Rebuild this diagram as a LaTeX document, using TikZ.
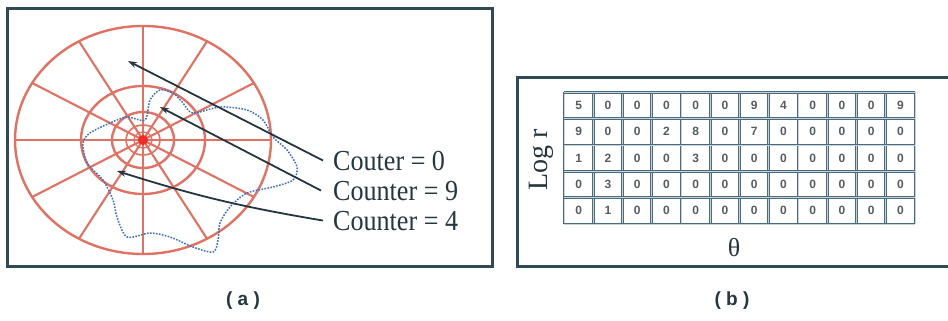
\documentclass[tikz,border=0pt]{standalone}
\usepackage{fontspec}
\setmainfont{Liberation Serif}
\setsansfont{Liberation Sans}
\usetikzlibrary{arrows.meta}
\definecolor{framec}{HTML}{2F4A52}
\definecolor{ringc}{HTML}{DF7262}
\definecolor{dotc}{HTML}{E8302A}
\definecolor{bluec}{HTML}{3C6FC4}
\definecolor{arrowc}{HTML}{24373F}
\definecolor{gridc}{HTML}{4A6A7E}
\definecolor{digitc}{HTML}{555C62}
\begin{document}
\begin{tikzpicture}[x=1pt,y=-1pt,
  frame/.style={draw=framec,line width=3pt},
  ring/.style={draw=ringc,line width=2.4pt},
  spoke/.style={draw=ringc,line width=2.1pt},
  contour/.style={draw=bluec,line width=1.5pt,dash pattern=on 1.6pt off 1.4pt},
  ptr/.style={draw=arrowc,line width=1.8pt,-{Stealth[length=9pt,width=6pt]}},
  lbl/.style={font=\fontsize{29}{30}\selectfont,text=arrowc,anchor=base west,inner sep=0pt,xscale=0.9},
  digit/.style={font=\sffamily\bfseries\fontsize{12}{12}\selectfont,text=digitc,inner sep=0pt},
  gridline/.style={draw=gridc,line width=1.1pt,double=white!70!gridc,double distance=0.7pt},
  axis/.style={font=\fontsize{28}{28}\selectfont,text=arrowc,inner sep=0pt},
  caption/.style={font=\sffamily\bfseries\fontsize{19}{19}\selectfont,text=arrowc,inner sep=0pt}
]
\useasboundingbox (0,0) rectangle (948,321);
\clip (0,0) rectangle (948,321);
\fill[white] (0,0) rectangle (948,321);

% ---------- panel (a) ----------
\draw[frame] (7,9) rectangle (492,266);
\coordinate (C) at (143,140);
\foreach \a in {0,30,...,330}
  \draw[spoke] (C) -- ++({128*cos(\a)},{114*sin(\a)});
\draw[ring] (C) ellipse [x radius=128,y radius=114];
\draw[ring] (C) ellipse [x radius=62,y radius=54];
\draw[ring] (C) ellipse [x radius=31,y radius=28];
\draw[ring,line width=1.6pt] (C) ellipse [x radius=17,y radius=15];
\draw[ring,line width=1.3pt] (C) ellipse [x radius=9,y radius=8];
\fill[dotc] (C) circle (5);

\draw[contour] plot[smooth cycle,tension=0.5] coordinates {
 (127,237) (150,233) (170,237) (193,247) (213,252) (218,240) (220,223)
 (230,207) (247,193) (273,187) (293,180) (297,167) (287,150) (273,137)
 (263,120) (247,110) (220,107) (193,113) (183,103) (173,93) (160,90)
 (150,100) (145,120) (127,117) (110,123) (90,133) (83,143) (87,163)
 (103,180) (113,200) (117,217)};

\coordinate (t0) at (128,61);
\coordinate (t9) at (160,107);
\coordinate (t4) at (117,171);
\node[lbl] (l0) at (333,170) {Couter = 0};
\node[lbl] (l9) at (333,200) {Counter = 9};
\node[lbl] (l4) at (333,230) {Counter = 4};
\draw[ptr] ([xshift=-10pt]l0.west) -- (t0);
\draw[ptr] ([xshift=-12pt]l9.west) -- (t9);
\draw[ptr] ([xshift=-10pt]l4.west) to[bend left=4] (t4);

\node[caption] (capa) at (243,301) {( a )};

% ---------- panel (b) ----------
\draw[frame] (517,78) rectangle (955,266);
\foreach \i in {0,...,12}
  \draw[gridline] ({564+\i*29.25},92.3) -- ({564+\i*29.25},224);
\foreach \j in {0,...,5}
  \draw[gridline] (564,{92.3+\j*26.34}) -- (915,{92.3+\j*26.34});
\foreach \row [count=\r] in {{5,0,0,0,0,0,9,4,0,0,0,9},
                             {9,0,0,2,8,0,7,0,0,0,0,0},
                             {1,2,0,0,3,0,0,0,0,0,0,0},
                             {0,3,0,0,0,0,0,0,0,0,0,0},
                             {0,1,0,0,0,0,0,0,0,0,0,0}}{
  \foreach \v [count=\c] in \row
    \node[digit] (d\r-\c) at ({564+(\c-0.5)*29.25},{92.3+(\r-0.5)*26.34}) {\v};
}
\node[axis,rotate=90] (logr) at (541,160) {Log r};
\node[axis,font=\fontsize{26}{26}\selectfont] (theta) at (734,248) {θ};
\node[caption] (capb) at (732,301) {( b )};
\end{tikzpicture}
\end{document}
